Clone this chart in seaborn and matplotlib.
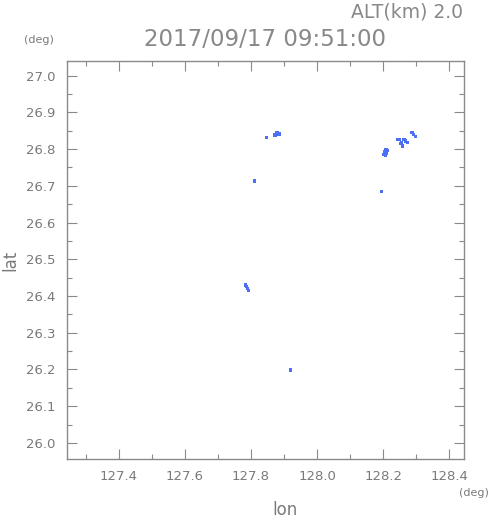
import matplotlib
matplotlib.use("Agg")
import matplotlib.pyplot as plt
import seaborn as sns
import pandas as pd
from matplotlib.ticker import MultipleLocator, FormatStrFormatter

# puntos de eco (lon, lat)
lon = [127.848, 127.873, 127.878, 127.883, 127.887, 127.879,
       127.810,
       128.205, 128.210, 128.207, 128.212, 128.203, 128.209,
       128.195,
       128.287, 128.291, 128.297,
       128.263, 128.268, 128.274,
       128.245, 128.250, 128.252, 128.256, 128.258,
       127.783, 127.786, 127.789, 127.792,
       127.920]
lat = [26.832, 26.839, 26.842, 26.841, 26.841, 26.846,
       26.713,
       26.793, 26.788, 26.782, 26.796, 26.786, 26.799,
       26.684,
       26.845, 26.840, 26.835,
       26.826, 26.822, 26.818,
       26.827, 26.827, 26.816, 26.818, 26.808,
       26.430, 26.426, 26.420, 26.415,
       26.199]

titulo = "2017/09/17 09:51:00"
altitud = "ALT(km) 2.0"

df = pd.DataFrame({"lon": lon, "lat": lat})

sns.set_style("ticks")
plt.rcParams['font.family'] = ['DejaVu Sans']

fig = plt.figure(figsize=(4.91, 5.21), dpi=100)
ax = fig.add_axes([0.1358, 0.1196, 0.809, 0.7633])

sns.scatterplot(data=df, x="lon", y="lat", marker="s", s=6, color="#4d6ff5",
                edgecolor="none", linewidth=0, ax=ax)

ax.set_xlim(127.243, 128.444)
ax.set_ylim(25.957, 27.040)

gris = "#8a8a8a"
texto = "#7a7a7a"
ax.xaxis.set_major_locator(MultipleLocator(0.2))
ax.xaxis.set_minor_locator(MultipleLocator(0.1))
ax.yaxis.set_major_locator(MultipleLocator(0.1))
ax.yaxis.set_minor_locator(MultipleLocator(0.05))
ax.tick_params(which="both", direction="in", top=True, right=True, colors=gris,
               labelcolor=texto, labelsize=9.5, width=0.8)
ax.tick_params(which="major", length=7, pad=8)
ax.tick_params(which="minor", length=3.5)
ax.xaxis.set_major_formatter(FormatStrFormatter("%.1f"))
ax.yaxis.set_major_formatter(FormatStrFormatter("%.1f"))
for sp in ax.spines.values():
    sp.set_color(gris)
    sp.set_linewidth(1)

ax.set_xlabel("")
ax.set_ylabel("")
fig.text(0.58, 0.004, "lon", ha="center", va="bottom", fontsize=12, color=texto)
fig.text(0.022, 0.5, "lat", ha="center", va="center", rotation=90, fontsize=12, color=texto)
fig.text(0.995, 0.053, "(deg)", ha="right", va="center", fontsize=8, color=texto)
fig.text(0.08, 0.924, "(deg)", ha="center", va="center", fontsize=8, color=texto)
fig.text(0.54, 0.924, titulo, ha="center", va="center", fontsize=16.5, color="#888888")
fig.text(0.943, 0.977, altitud, ha="right", va="center", fontsize=13.5, color="#888888")

fig.savefig("out.png", dpi=100)
